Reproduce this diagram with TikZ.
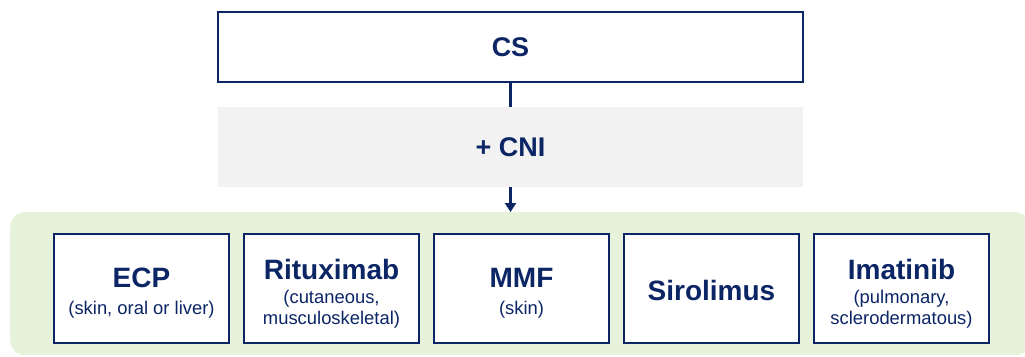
\documentclass[tikz,border=0pt]{standalone}
\usepackage{fontspec}
\setmainfont{Liberation Sans}
\usetikzlibrary{arrows.meta}
\definecolor{navy}{HTML}{0B2565}
\definecolor{softgray}{HTML}{F2F2F2}
\definecolor{softgreen}{HTML}{E6F2DA}
\tikzset{
  topbox/.style={draw=navy, line width=1.4pt, fill=white, minimum width=585pt, minimum height=70pt, inner sep=0pt, text=navy,
    font=\bfseries\fontsize{27}{30}\selectfont},
  graybox/.style={fill=softgray, minimum width=585pt, minimum height=80pt, inner sep=0pt, text=navy,
    font=\bfseries\fontsize{27}{30}\selectfont},
  drugbox/.style={draw=navy, line width=1.4pt, fill=white, minimum width=175pt, minimum height=109pt, inner sep=0pt},
  druglabel/.style={text=navy, align=center, inner sep=0pt, font=\fontsize{18.4}{21}\selectfont},
  link/.style={draw=navy, line width=3pt},
  flow/.style={draw=navy, line width=2.5pt, -{Triangle[length=9pt,width=11pt]}}
}
\newcommand{\drugtitle}[1]{{\bfseries\fontsize{28}{28}\selectfont #1}}
\begin{document}
\begin{tikzpicture}[x=1pt,y=-1pt]
  \useasboundingbox (0,0) rectangle (1025,356);
  % green panel holding the treatment options
  \node[fill=softgreen, rounded corners=15pt, minimum width=1020pt, minimum height=143pt, inner sep=0pt, anchor=north west]
    (panel) at (10,212) {};
  % first-line and add-on steps
  \node[topbox] (cs) at (510.5,47) {CS};
  \node[graybox] (cni) at (510.5,147) {+ CNI};
  \draw[link] (cs.south) -- (cni.north);
  \draw[flow] (cni.south) -- (cni.south |- panel.north);
  % treatment options
  \node[drugbox] (ecp) at (141.5,288.5) {};
  \node[drugbox] (rtx) at (331.5,288.5) {};
  \node[drugbox] (mmf) at (521.5,288.5) {};
  \node[drugbox] (sir) at (711.5,288.5) {};
  \node[drugbox] (ima) at (901.5,288.5) {};
  \node[druglabel] (ecpt) at ([yshift=-5pt]ecp.center) {\drugtitle{ECP}\\[6pt](skin, oral or liver)};
  \node[druglabel] (rtxt) at ([yshift=-5pt]rtx.center) {\drugtitle{Rituximab}\\[3pt](cutaneous,\\musculoskeletal)};
  \node[druglabel] (mmft) at ([yshift=-5pt]mmf.center) {\drugtitle{MMF}\\[6pt](skin)};
  \node[druglabel] (sirt) at ([yshift=-2pt]sir.center) {\drugtitle{Sirolimus}};
  \node[druglabel] (imat) at ([yshift=-5pt]ima.center) {\drugtitle{Imatinib}\\[3pt](pulmonary,\\sclerodermatous)};
\end{tikzpicture}
\end{document}
